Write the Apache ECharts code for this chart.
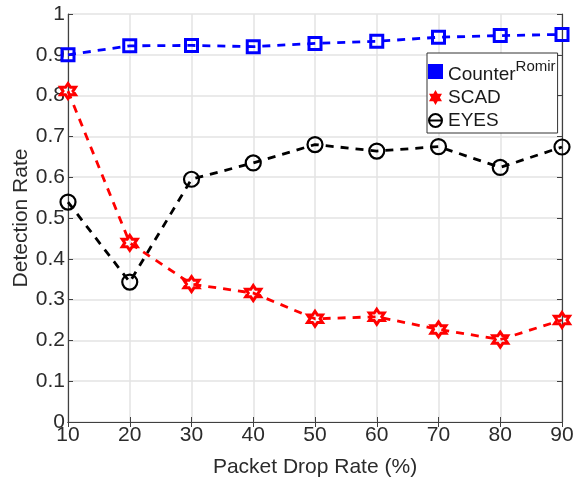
<!DOCTYPE html>
<html>
<head>
<meta charset="utf-8">
<script src="https://cdn.jsdelivr.net/npm/echarts@6/dist/echarts.min.js"></script>
<style>
  html, body { margin: 0; padding: 0; background: #fff; }
  #chart { width: 573px; height: 480px; }
</style>
</head>
<body>
<div id="chart"></div>
<script>
// packet drop rate (%)
const dropRates = [10, 20, 30, 40, 50, 60, 70, 80, 90]
const yTicks = [0, 0.1, 0.2, 0.3, 0.4, 0.5, 0.6, 0.7, 0.8, 0.9, 1]

// detection rate per method
const counterRomir = [0.900, 0.922, 0.923, 0.920, 0.928, 0.933, 0.943, 0.947, 0.950]
const scad = [0.811, 0.439, 0.338, 0.316, 0.253, 0.258, 0.227, 0.202, 0.250]
const eyes = [0.539, 0.343, 0.595, 0.635, 0.680, 0.664, 0.675, 0.624, 0.674]

const textColor = '#2b2b2b'
const axisColor = '#404040'
const gridColor = '#e3e3e3'
const font = 'Liberation Sans, Arial, sans-serif'

// six-pointed star outline (hexagram)
const hexagram = 'path://M50 0 L64.43 25 L93.3 25 L78.87 50 L93.3 75 L64.43 75 L50 100 L35.57 75 L6.7 75 L21.13 50 L6.7 25 L35.57 25 Z'
// legend icon: ring with a short line through it
const ringDash = 'path://M50 0 A50 50 0 1 1 49.99 0 Z M50 14 A36 36 0 1 0 50.01 14 Z M8 43 L92 43 L92 57 L8 57 Z'

const pairs = (ys) => dropRates.map((x, i) => [x, ys[i]])

const chart = echarts.init(document.getElementById('chart'))

const axisLine = { show: true, lineStyle: { color: axisColor, width: 1.2 } }

const options = {
  backgroundColor: '#ffffff',
  animation: false,
  grid: { left: 68, right: 11, top: 14, bottom: 58, outerBoundsMode: 'none', containLabel: false },
  legend: {
    left: 427,
    top: 53,
    orient: 'vertical',
    itemWidth: 15,
    itemHeight: 15,
    itemGap: 4,
    padding: [6, 2, 3, 1],
    backgroundColor: '#ffffff',
    borderColor: '#333333',
    borderWidth: 1,
    textStyle: {
      fontFamily: font,
      fontSize: 19,
      color: '#1a1a1a',
      rich: {
        main: { fontFamily: font, fontSize: 19, color: '#1a1a1a', padding: [6, 0, 0, 0] },
        sup: { fontFamily: font, fontSize: 15, color: '#1a1a1a', verticalAlign: 'top', padding: [0, 0, 8, 0] }
      }
    },
    formatter: (name) => name === 'CounterRomir' ? '{main|Counter}{sup|Romir}' : name,
    data: [
      { name: 'CounterRomir', icon: 'rect', itemStyle: { color: '#0000ff', borderWidth: 0 } },
      { name: 'SCAD', icon: hexagram, itemStyle: { color: '#ff0000', borderWidth: 0 } },
      { name: 'EYES', icon: ringDash, itemStyle: { color: '#000000', borderWidth: 0 } }
    ]
  },
  xAxis: [{
    type: 'value',
    min: 10,
    max: 90,
    interval: 10,
    name: 'Packet Drop Rate (%)',
    nameLocation: 'middle',
    nameGap: 35,
    nameMoveOverlap: false,
    nameTextStyle: { fontFamily: font, fontSize: 21, color: textColor },
    axisLine: axisLine,
    axisTick: { show: true, inside: true, length: 5, lineStyle: { color: axisColor } },
    axisLabel: { fontFamily: font, fontSize: 21, color: textColor, margin: 3 },
    splitLine: { show: true, lineStyle: { color: gridColor, width: 1.5 } }
  }, {
    type: 'value',
    position: 'top',
    min: 10,
    max: 90,
    interval: 10,
    axisLine: axisLine,
    axisTick: { show: true, inside: true, length: 5, lineStyle: { color: axisColor } },
    axisLabel: { show: false },
    splitLine: { show: false }
  }],
  yAxis: [{
    type: 'value',
    min: 0,
    max: 1,
    interval: 0.1,
    name: 'Detection Rate',
    nameLocation: 'middle',
    nameGap: 36,
    nameMoveOverlap: false,
    nameTextStyle: { fontFamily: font, fontSize: 21, color: textColor },
    axisLine: axisLine,
    axisTick: { show: true, inside: true, length: 5, lineStyle: { color: axisColor } },
    axisLabel: {
      fontFamily: font,
      fontSize: 21,
      color: textColor,
      margin: 3,
      formatter: (v) => {
        const t = yTicks.find((k) => Math.abs(k - v) < 1e-6)
        return t === undefined ? '' : String(t)
      }
    },
    splitLine: { show: true, lineStyle: { color: gridColor, width: 1.5 } }
  }, {
    type: 'value',
    position: 'right',
    min: 0,
    max: 1,
    interval: 0.1,
    axisLine: axisLine,
    axisTick: { show: true, inside: true, length: 5, lineStyle: { color: axisColor } },
    axisLabel: { show: false },
    splitLine: { show: false }
  }],
  series: [
    {
      name: 'CounterRomir',
      type: 'line',
      data: pairs(counterRomir),
      symbol: 'rect',
      symbolSize: 12,
      z: 3,
      lineStyle: { color: '#0000ff', width: 2.8, type: [8, 7] },
      itemStyle: { color: 'transparent', borderColor: '#0000ff', borderWidth: 3 }
    },
    {
      name: 'SCAD',
      type: 'line',
      data: pairs(scad),
      symbol: hexagram,
      symbolSize: 15,
      z: 3,
      lineStyle: { color: '#ff0000', width: 2.8, type: [8, 7] },
      itemStyle: { color: 'transparent', borderColor: '#ff0000', borderWidth: 3 }
    },
    {
      name: 'EYES',
      type: 'line',
      data: pairs(eyes),
      symbol: 'circle',
      symbolSize: 15,
      z: 3,
      lineStyle: { color: '#000000', width: 2.8, type: [8, 7] },
      itemStyle: { color: 'transparent', borderColor: '#000000', borderWidth: 2.2 }
    }
  ]
}

chart.setOption(options)
</script>
</body>
</html>
